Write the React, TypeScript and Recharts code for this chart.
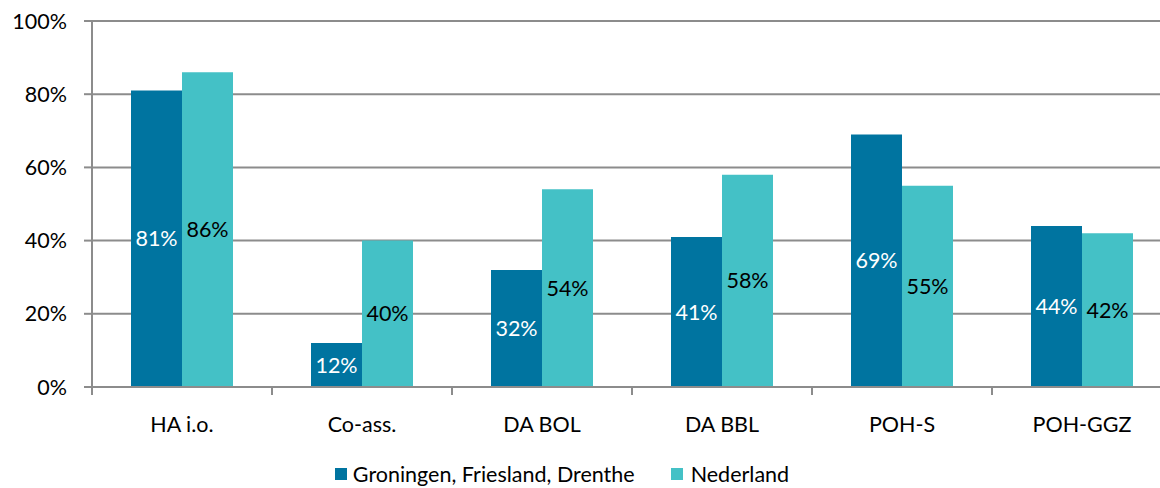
import { BarChart, Bar, XAxis, YAxis, CartesianGrid, LabelList } from 'recharts';

// categories and values (percent)
const categories = ['HA i.o.', 'Co-ass.', 'DA BOL', 'DA BBL', 'POH-S', 'POH-GGZ'];
const groningen = [81, 12, 32, 41, 69, 44];
const nederland = [86, 40, 54, 58, 55, 42];
const yTicks = [0, 20, 40, 60, 80, 100];

const seriesNames = ['Groningen, Friesland, Drenthe', 'Nederland'];
const DARK = '#0074a0';
const LIGHT = '#44c1c6';
const GRID = '#8c8c8c';
const FONT = 'Lato, sans-serif';
const FS = 21.5;

const data = categories.map((name, i) => ({
    name,
    gfd: groningen[i],
    nl: nederland[i],
}));

const CAT_W = 180;

function CategoryTick(props: any) {
    const { x, y, payload } = props;
    return (
        <g>
            <line x1={x - CAT_W / 2} x2={x - CAT_W / 2} y1={y} y2={y + 8} stroke={GRID} strokeWidth={2} />
            <line x1={x + CAT_W / 2} x2={x + CAT_W / 2} y1={y} y2={y + 8} stroke={GRID} strokeWidth={2} />
            <text x={x} y={y + 45} textAnchor="middle" fill="#000" fontSize={FS} fontFamily={FONT}>
                {payload.value}
            </text>
        </g>
    );
}

export default function App() {
    return (
        <div style={{ position: 'absolute', left: 0, top: 0, width: 1160, height: 488, overflow: 'hidden', background: '#fff', fontFamily: FONT }}>
            <BarChart
                width={1180}
                height={440}
                data={data}
                margin={{ top: 21, right: 8, left: 0, bottom: 0 }}
                barCategoryGap={39}
                barGap={0}
            >
                <CartesianGrid vertical={false} stroke={GRID} strokeWidth={2} />
                <XAxis
                    dataKey="name"
                    height={53}
                    tickLine={false}
                    tickSize={0}
                    tickMargin={0}
                    axisLine={{ stroke: GRID, strokeWidth: 2 }}
                    tick={<CategoryTick />}
                    interval={0}
                />
                <YAxis
                    width={92}
                    domain={[0, 100]}
                    ticks={yTicks}
                    tickFormatter={(v: number) => `${v}%`}
                    tickSize={8}
                    tickMargin={17}
                    tickLine={{ stroke: GRID, strokeWidth: 2 }}
                    axisLine={{ stroke: GRID, strokeWidth: 2 }}
                    tick={{ fill: '#000', fontSize: FS, fontFamily: FONT }}
                />
                <Bar dataKey="gfd" name={seriesNames[0]} fill={DARK} isAnimationActive={false}>
                    <LabelList dataKey="gfd" position="center" fill="#fff" fontSize={FS} fontFamily={FONT} formatter={(v: any) => `${v}%`} />
                </Bar>
                <Bar dataKey="nl" name={seriesNames[1]} fill={LIGHT} isAnimationActive={false}>
                    <LabelList dataKey="nl" position="center" fill="#000" fontSize={FS} fontFamily={FONT} formatter={(v: any) => `${v}%`} />
                </Bar>
            </BarChart>
            {/* legend */}
            <div style={{ position: 'absolute', top: 461, left: 0, width: 1160, display: 'flex', justifyContent: 'center', fontSize: FS, color: '#000', lineHeight: '26px' }}>
                <div style={{ display: 'flex', alignItems: 'center', marginRight: 36, marginLeft: -36 }}>
                    <span style={{ width: 12, height: 12, background: DARK, marginRight: 6, display: 'inline-block' }} />
                    {seriesNames[0]}
                </div>
                <div style={{ display: 'flex', alignItems: 'center' }}>
                    <span style={{ width: 12, height: 12, background: LIGHT, marginRight: 8, display: 'inline-block' }} />
                    {seriesNames[1]}
                </div>
            </div>
        </div>
    );
}
